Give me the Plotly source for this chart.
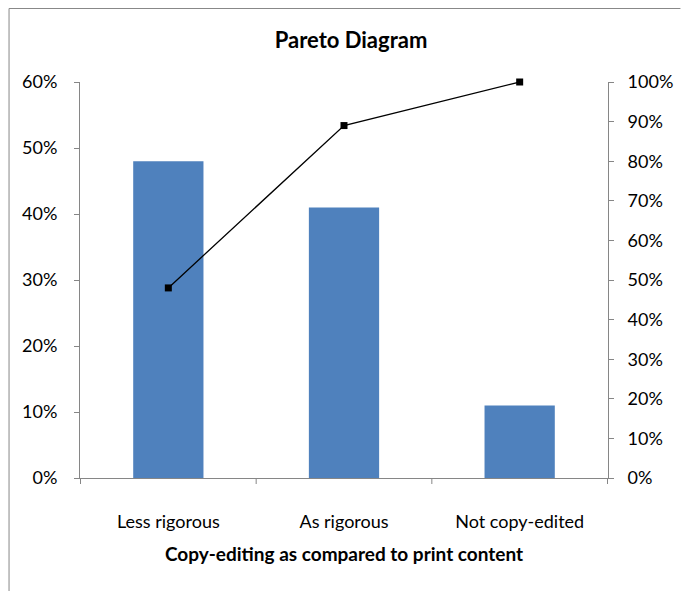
import plotly.graph_objects as go

categories = ["Less rigorous", "As rigorous", "Not copy-edited"]
share = [0.48, 0.41, 0.11]
cumulative = [0.48, 0.89, 1.00]
left_ticks = [0, 0.1, 0.2, 0.3, 0.4, 0.5, 0.6]
right_ticks = [0, 0.1, 0.2, 0.3, 0.4, 0.5, 0.6, 0.7, 0.8, 0.9, 1.0]

FONT = "Lato, Open Sans, sans-serif"
AX = "#868686"

W, H = 685, 591
L, T = 80, 82
PW, PH = 532, 396
R = W - L - PW
B = H - T - PH

fig = go.Figure()
fig.add_trace(go.Bar(x=categories, y=share, marker=dict(color="#4F81BD", line=dict(width=0)),
                     width=0.4, showlegend=False))
fig.add_trace(go.Scatter(x=categories, y=cumulative, yaxis="y2", mode="lines+markers",
                         line=dict(color="black", width=1.3),
                         marker=dict(symbol="square", size=7, color="black"),
                         showlegend=False, cliponaxis=False))

FX, FY = 8, 8  # outer chart frame corner (pixels)

fig.update_layout(
    width=W, height=H,
    margin=dict(l=L, r=R, t=T, b=B),
    paper_bgcolor="white", plot_bgcolor="white",
    font=dict(family=FONT, size=18, color="black"),
    title=dict(text="<b>Pareto Diagram</b>", x=351 / W, xanchor="center",
               y=1 - 40 / H, yanchor="middle", font=dict(size=22, family=FONT)),
    xaxis=dict(showline=True, linecolor=AX, linewidth=1, ticks="", showgrid=False,
               ticklabelstandoff=27,
               title=dict(text="<b>Copy-editing as compared to print content</b>", standoff=17,
                          font=dict(size=19)),
               tickfont=dict(size=18)),
    yaxis=dict(range=[0, 0.6], tickvals=left_ticks, tickformat=".0%", showline=True, linecolor=AX,
               ticks="outside", ticklen=5, tickcolor=AX, showgrid=False, zeroline=False,
               ticklabelstandoff=13, tickfont=dict(size=18)),
    yaxis2=dict(range=[0, 1.0], tickvals=right_ticks, tickformat=".0%", overlaying="y", side="right",
                showline=True, linecolor=AX, ticks="outside", ticklen=5, tickcolor=AX,
                showgrid=False, zeroline=False, ticklabelstandoff=10, tickfont=dict(size=18)),
    shapes=[
        # outer chart frame: only top and left edges are visible in the window
        dict(type="line", xref="paper", yref="paper", x0=(FX + 0.5 - L) / PW, x1=(W - L) / PW,
             y0=(PH + T - FY - 0.5) / PH, y1=(PH + T - FY - 0.5) / PH,
             line=dict(color="#888888", width=1), layer="below"),
        dict(type="line", xref="paper", yref="paper", x0=(FX + 0.5 - L) / PW, x1=(FX + 0.5 - L) / PW,
             y0=-B / PH, y1=(PH + T - FY - 0.5) / PH,
             line=dict(color="#888888", width=1), layer="below"),
    ],
)
# category boundary tick marks on x axis
for k in range(4):
    fig.add_shape(type="line", xref="x", yref="paper", x0=k - 0.5, x1=k - 0.5, y0=0, y1=-6 / PH,
                  line=dict(color=AX, width=1))

fig.write_html("out.html", config={"displayModeBar": False},
               post_script="document.body.style.margin='0';document.body.style.overflow='hidden';")
